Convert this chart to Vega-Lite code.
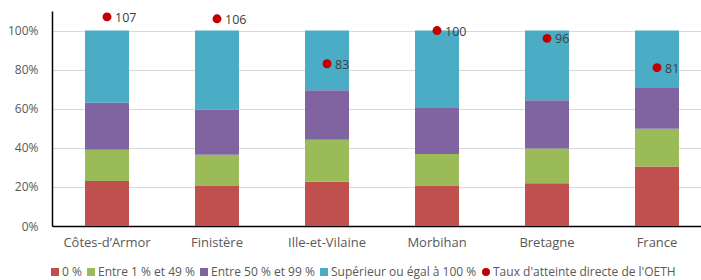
{
  "$schema": "https://vega.github.io/schema/vega-lite/v6.json",
  "autosize": {"type": "none"},
  "width": 649,
  "height": 215,
  "padding": {"left": 52, "top": 11, "right": 0, "bottom": 54},
  "config": {
    "view": {"stroke": null},
    "font": "Open Sans",
    "axis": {"labelFont": "Open Sans", "labelFontSize": 12, "labelColor": "#595959", "ticks": false, "title": null}
  },
  "datasets": {
    "bars": [
      {"zone": "Côtes-d’Armor", "cat": "0 %", "ordre": 1, "val": 23},
      {"zone": "Côtes-d’Armor", "cat": "Entre 1 % et 49 %", "ordre": 2, "val": 16},
      {"zone": "Côtes-d’Armor", "cat": "Entre 50 % et 99 %", "ordre": 3, "val": 24},
      {"zone": "Côtes-d’Armor", "cat": "Supérieur ou égal à 100 %", "ordre": 4, "val": 37},
      {"zone": "Finistère", "cat": "0 %", "ordre": 1, "val": 20.5},
      {"zone": "Finistère", "cat": "Entre 1 % et 49 %", "ordre": 2, "val": 16},
      {"zone": "Finistère", "cat": "Entre 50 % et 99 %", "ordre": 3, "val": 23},
      {"zone": "Finistère", "cat": "Supérieur ou égal à 100 %", "ordre": 4, "val": 40.5},
      {"zone": "Ille-et-Vilaine", "cat": "0 %", "ordre": 1, "val": 22.7},
      {"zone": "Ille-et-Vilaine", "cat": "Entre 1 % et 49 %", "ordre": 2, "val": 21.4},
      {"zone": "Ille-et-Vilaine", "cat": "Entre 50 % et 99 %", "ordre": 3, "val": 25.3},
      {"zone": "Ille-et-Vilaine", "cat": "Supérieur ou égal à 100 %", "ordre": 4, "val": 30.6},
      {"zone": "Morbihan", "cat": "0 %", "ordre": 1, "val": 20.5},
      {"zone": "Morbihan", "cat": "Entre 1 % et 49 %", "ordre": 2, "val": 16.3},
      {"zone": "Morbihan", "cat": "Entre 50 % et 99 %", "ordre": 3, "val": 23.9},
      {"zone": "Morbihan", "cat": "Supérieur ou égal à 100 %", "ordre": 4, "val": 39.3},
      {"zone": "Bretagne", "cat": "0 %", "ordre": 1, "val": 21.9},
      {"zone": "Bretagne", "cat": "Entre 1 % et 49 %", "ordre": 2, "val": 17.8},
      {"zone": "Bretagne", "cat": "Entre 50 % et 99 %", "ordre": 3, "val": 24.6},
      {"zone": "Bretagne", "cat": "Supérieur ou égal à 100 %", "ordre": 4, "val": 35.7},
      {"zone": "France", "cat": "0 %", "ordre": 1, "val": 30.4},
      {"zone": "France", "cat": "Entre 1 % et 49 %", "ordre": 2, "val": 19.3},
      {"zone": "France", "cat": "Entre 50 % et 99 %", "ordre": 3, "val": 20.9},
      {"zone": "France", "cat": "Supérieur ou égal à 100 %", "ordre": 4, "val": 29.4}
    ],
    "points": [
      {"zone": "Côtes-d’Armor", "cat": "Taux d'atteinte directe de l'OETH", "taux": 107},
      {"zone": "Finistère", "cat": "Taux d'atteinte directe de l'OETH", "taux": 106},
      {"zone": "Ille-et-Vilaine", "cat": "Taux d'atteinte directe de l'OETH", "taux": 83},
      {"zone": "Morbihan", "cat": "Taux d'atteinte directe de l'OETH", "taux": 100},
      {"zone": "Bretagne", "cat": "Taux d'atteinte directe de l'OETH", "taux": 96},
      {"zone": "France", "cat": "Taux d'atteinte directe de l'OETH", "taux": 81}
    ]
  },
  "layer": [
    {
      "data": {"name": "bars"},
      "mark": {"type": "bar"},
      "encoding": {
        "x": {
          "field": "zone", "type": "nominal", "sort": null,
          "scale": {"paddingInner": 0.6, "paddingOuter": 0.25, "align": 0.6},
          "axis": {"labelAngle": 0, "labelPadding": 10, "labelFontSize": 13, "domainColor": "#000000", "domainWidth": 1.5, "grid": false}
        },
        "y": {
          "field": "val", "type": "quantitative", "stack": "zero",
          "scale": {"domain": [0, 110], "nice": false},
          "axis": {"values": [0, 20, 40, 60, 80, 100], "labelExpr": "datum.value + '%'", "labelPadding": 14, "domainColor": "#000000", "domainWidth": 1.5, "gridColor": "#d9d9d9", "gridWidth": 1}
        },
        "order": {"field": "ordre", "type": "quantitative"},
        "color": {
          "field": "cat", "type": "nominal",
          "scale": {
            "domain": ["0 %", "Entre 1 % et 49 %", "Entre 50 % et 99 %", "Supérieur ou égal à 100 %", "Taux d'atteinte directe de l'OETH"],
            "range": ["#C0504D", "#9BBB59", "#8064A2", "#4BACC6", "#C00000"]
          },
          "legend": {
            "title": null, "orient": "none", "legendX": -3, "legendY": 255, "direction": "horizontal", "columns": 5,
            "labelFont": "Open Sans", "labelFontSize": 12, "labelColor": "#595959",
            "symbolSize": 64, "symbolStrokeWidth": 0, "labelOffset": 1, "columnPadding": 3,
            "labelLimit": 300,
            "symbolType": "square",
            "encode": {"symbols": {"update": {"shape": {"signal": "indexof('' + datum.value, 'Taux') == 0 ? 'circle' : 'square'"}}}}
          }
        }
      }
    },
    {
      "mark": {"type": "rule", "color": "#595959", "strokeWidth": 1.5},
      "encoding": {"y": {"datum": 110}}
    },
    {
      "data": {"name": "points"},
      "mark": {"type": "point", "filled": true, "shape": "circle", "size": 80, "opacity": 1},
      "encoding": {
        "x": {"field": "zone", "type": "nominal", "sort": null},
        "y": {"field": "taux", "type": "quantitative"},
        "color": {"field": "cat", "type": "nominal"}
      }
    },
    {
      "data": {"name": "points"},
      "mark": {"type": "text", "align": "left", "baseline": "middle", "dx": 8, "dy": 1, "fontSize": 12.5, "color": "#404040", "font": "Open Sans"},
      "encoding": {
        "x": {"field": "zone", "type": "nominal", "sort": null},
        "y": {"field": "taux", "type": "quantitative"},
        "text": {"field": "taux", "type": "quantitative"}
      }
    }
  ]
}
